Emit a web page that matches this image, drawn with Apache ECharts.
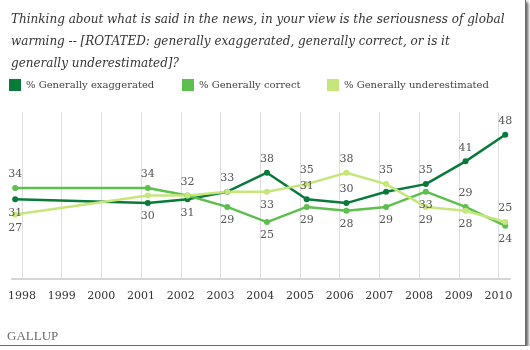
<!DOCTYPE html>
<html>
<head>
<meta charset="utf-8">
<script src="https://cdn.jsdelivr.net/npm/echarts@6/dist/echarts.min.js"></script>
<style>
    body { margin: 0; background: #fff; }
    #chart {
        width: 525px;
        height: 345px;
        background: #fff;
        border-right: 1px solid #6b6b6b;
        border-bottom: 1px solid #6b6b6b;
        box-shadow: 2px 2px 3px #555;
    }
</style>
</head>
<body>
<div id="chart"></div>
<script>
// poll dates (fraction of year) and results, %
var pollDates = [1997.83, 2001.17, 2002.17, 2003.17, 2004.17, 2005.17, 2006.17, 2007.17, 2008.17, 2009.17, 2010.17];
var yearTicks = [1998, 1999, 2000, 2001, 2002, 2003, 2004, 2005, 2006, 2007, 2008, 2009, 2010];
var exaggerated = [31, 30, 31, 33, 38, 31, 30, 33, 35, 41, 48];
var correct = [34, 34, 32, 29, 25, 29, 28, 29, 33, 29, 24];
var underestimated = [27, 32, 32, 33, 33, 35, 38, 35, 29, 28, 25];

// where each value label sits ('' = no label)
var exaggeratedLabels = ['bottom', 'bottom', 'bottom', 'top', 'top', 'top', 'top', '', 'top', 'top', 'top'];
var correctLabels = ['top', 'top', 'top', 'bottom', 'bottom', 'bottom', 'bottom', 'bottom', 'bottom', 'top', 'bottom'];
var underestimatedLabels = ['bottom', '', '', '', 'bottom', 'top', 'top', 'top', 'bottom', 'bottom', 'top'];

var names = ['% Generally exaggerated', '% Generally correct', '% Generally underestimated'];
var colors = ['#0a7a3a', '#5dbf4e', '#c6e67b'];
var serif = 'DejaVu Serif';

function buildData(values, places) {
    return values.map(function (v, i) {
        var item = { value: [pollDates[i], v] };
        if (places[i]) {
            item.label = { show: true, position: places[i] };
        }
        return item;
    });
}

function lineSeries(idx, values, places) {
    return {
        name: names[idx],
        type: 'line',
        symbol: 'circle',
        symbolSize: 6,
        color: colors[idx],
        lineStyle: { width: 2.5, color: colors[idx] },
        label: {
            show: false,
            distance: 5,
            fontFamily: serif,
            fontSize: 11,
            color: '#555'
        },
        emphasis: { disabled: true },
        data: buildData(values, places)
    };
}

function legendAt(idx, left) {
    return {
        data: [names[idx]],
        left: left,
        top: 74,
        itemWidth: 12,
        itemHeight: 12,
        icon: 'rect',
        itemGap: 6,
        textStyle: { fontFamily: serif, fontSize: 10, color: '#444' }
    };
}

var chart = echarts.init(document.getElementById('chart'));
var option = {
    animation: false,
    title: {
        text: 'Thinking about what is said in the news, in your view is the seriousness of global\n' +
              'warming -- [ROTATED: generally exaggerated, generally correct, or is it\n' +
              'generally underestimated]?',
        left: 6,
        top: 4,
        textStyle: {
            fontFamily: serif,
            fontStyle: 'italic',
            fontWeight: 'normal',
            fontSize: 12,
            lineHeight: 22,
            color: '#333'
        }
    },
    legend: [legendAt(0, 4), legendAt(1, 177), legendAt(2, 322)],
    grid: { left: 12, right: 15, top: 112, bottom: 66 },
    xAxis: {
        type: 'value',
        min: 1997.75,
        max: 2010.29,
        axisLine: { lineStyle: { color: '#d4d4d4', width: 2 } },
        axisTick: { show: false, customValues: yearTicks },
        axisLabel: {
            customValues: yearTicks,
            margin: 12,
            fontFamily: serif,
            fontSize: 11,
            color: '#333',
            formatter: function (v) { return String(v); }
        },
        splitLine: { show: true, lineStyle: { color: '#dedede', width: 1 } }
    },
    yAxis: {
        type: 'value',
        min: 10,
        max: 54,
        show: false,
        splitLine: { show: false }
    },
    graphic: [{
        type: 'text',
        left: 7,
        top: 330,
        style: {
            text: 'GALLUP',
            fontFamily: 'Liberation Serif',
            fontSize: 13,
            fill: '#6a6a6a'
        }
    }],
    series: [
        lineSeries(0, exaggerated, exaggeratedLabels),
        lineSeries(1, correct, correctLabels),
        lineSeries(2, underestimated, underestimatedLabels)
    ]
};
chart.setOption(option);
</script>
</body>
</html>
